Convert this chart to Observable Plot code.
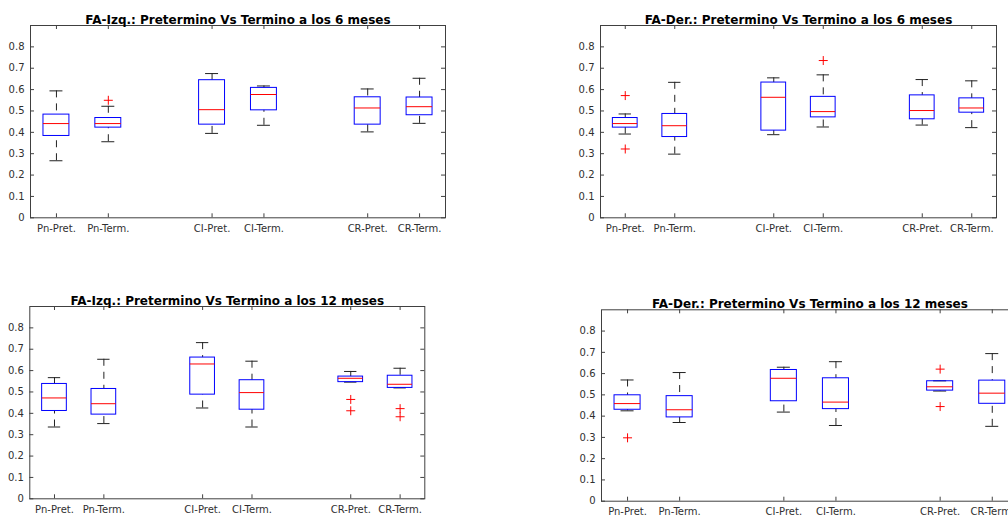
<!DOCTYPE html>
<html><head><meta charset="utf-8">
<script src="https://cdn.jsdelivr.net/npm/d3@7"></script>
<script src="https://cdn.jsdelivr.net/npm/@observablehq/plot@0.6"></script>
<style>
html,body{margin:0;padding:0;background:#fff;overflow:hidden;width:1008px;height:515px;}
#root{position:relative;width:1008px;height:515px;overflow:hidden;background:#fff;}
.panel{position:absolute;}
</style></head><body><div id="root"></div>
<script>
// ---- categories & ticks ----
const labels = ["Pn-Pret.","Pn-Term.","CI-Pret.","CI-Term.","CR-Pret.","CR-Term."];
const yTicks = [0, 0.1, 0.2, 0.3, 0.4, 0.5, 0.6, 0.7, 0.8];
const titles = [
  "FA-Izq.: Pretermino Vs Termino a los 6 meses",
  "FA-Der.: Pretermino Vs Termino a los 6 meses",
  "FA-Izq.: Pretermino Vs Termino a los 12 meses",
  "FA-Der.: Pretermino Vs Termino a los 12 meses"
];

// ---- FA-Izq. 6 meses ----
const izq6Low  = [0.267, 0.356, 0.395, 0.433, 0.402, 0.442];
const izq6Q1   = [0.383, 0.422, 0.436, 0.503, 0.436, 0.480];
const izq6Med  = [0.441, 0.441, 0.506, 0.577, 0.514, 0.520];
const izq6Q3   = [0.483, 0.467, 0.644, 0.608, 0.564, 0.563];
const izq6High = [0.594, 0.522, 0.675, 0.617, 0.603, 0.653];
const izq6OutLabel = ["Pn-Term."];
const izq6OutValue = [0.550];

// ---- FA-Der. 6 meses ----
const der6Low  = [0.392, 0.298, 0.389, 0.425, 0.434, 0.422];
const der6Q1   = [0.422, 0.378, 0.408, 0.470, 0.461, 0.492];
const der6Med  = [0.441, 0.431, 0.564, 0.497, 0.502, 0.514];
const der6Q3   = [0.467, 0.486, 0.633, 0.566, 0.573, 0.559];
const der6High = [0.486, 0.634, 0.655, 0.669, 0.647, 0.641];
const der6OutLabel = ["Pn-Pret.", "Pn-Pret.", "CI-Term."];
const der6OutValue = [0.572, 0.322, 0.736];

// ---- FA-Izq. 12 meses ----
const izq12Low  = [0.336, 0.352, 0.425, 0.336, 0.546, 0.519];
const izq12Q1   = [0.411, 0.394, 0.4875, 0.417, 0.546, 0.519];
const izq12Med  = [0.472, 0.445, 0.631, 0.497, 0.564, 0.536];
const izq12Q3   = [0.5375, 0.514, 0.661, 0.555, 0.572, 0.576];
const izq12High = [0.567, 0.653, 0.731, 0.644, 0.596, 0.611];
const izq12OutLabel = ["CR-Pret.", "CR-Pret.", "CR-Term.", "CR-Term."];
const izq12OutValue = [0.465, 0.412, 0.422, 0.384];

// ---- FA-Der. 12 meses ----
const der12Low  = [0.425, 0.370, 0.419, 0.356, 0.518, 0.352];
const der12Q1   = [0.430, 0.394, 0.470, 0.433, 0.520, 0.458];
const der12Med  = [0.459, 0.430, 0.578, 0.466, 0.538, 0.508];
const der12Q3   = [0.498, 0.494, 0.617, 0.578, 0.564, 0.567];
const der12High = [0.570, 0.605, 0.630, 0.656, 0.566, 0.694];
const der12OutLabel = ["Pn-Pret.", "CR-Pret.", "CR-Pret."];
const der12OutValue = [0.298, 0.621, 0.445];

// ---- layout (styles only) ----
const layouts = [
  {left: 0,   top: 0,   width: 460, height: 240, mL: 30,   mR: 15,   mT: 25,   mB: 22.7},
  {left: 540, top: 0,   width: 468, height: 240, mL: 60,   mR: 12,   mT: 25,   mB: 22.7},
  {left: 0,   top: 280, width: 460, height: 235, mL: 29.3, mR: 35.7, mT: 26,   mB: 16.7},
  {left: 540, top: 280, width: 490, height: 235, mL: 61,   mR: 12.2, mT: 29.3, mB: 14.3}
];

// slot index for each category: pairs separated by an empty slot
const slot = i => i + 1 + Math.floor(i / 2);
const slots = labels.map((_, i) => slot(i));

function panel(title, low, q1, med, q3, high, outLabel, outValue, L) {
  const rows = labels.map((lab, i) => ({pos: slot(i), low: low[i], q1: q1[i], med: med[i], q3: q3[i], high: high[i]}));
  const outs = outLabel.map((lab, i) => ({pos: slot(labels.indexOf(lab)), v: outValue[i]}));
  const plotW = L.width - L.mL - L.mR;
  const plotH = L.height - L.mT - L.mB;
  const axisColor = "#404040";
  const chart = Plot.plot({
    width: L.width, height: L.height,
    marginLeft: L.mL, marginRight: L.mR, marginTop: L.mT, marginBottom: L.mB,
    style: {fontFamily: "DejaVu Sans", fontSize: "10px", color: "#303030", background: "#fff", overflow: "visible"},
    x: {domain: [0.5, 8.5]},
    y: {domain: [0, 0.9]},
    marks: [
      // inward ticks on all four sides
      Plot.tickX(slots, {x: d => d, insetTop: plotH - 4, stroke: axisColor}),
      Plot.tickX(slots, {x: d => d, insetBottom: plotH - 4, stroke: axisColor}),
      Plot.tickY(yTicks, {y: d => d, insetRight: plotW - 4, stroke: axisColor}),
      Plot.tickY(yTicks, {y: d => d, insetLeft: plotW - 4, stroke: axisColor}),
      // whiskers (dashed), drawn from the far end toward the box
      Plot.ruleX(rows, {x: "pos", y1: "high", y2: "q3", stroke: "#222", strokeWidth: 1, strokeDasharray: "7,6"}),
      Plot.ruleX(rows, {x: "pos", y1: "low", y2: "q1", stroke: "#222", strokeWidth: 1, strokeDasharray: "7,6"}),
      // caps
      Plot.ruleY(rows, {y: "high", x1: d => d.pos - 0.125, x2: d => d.pos + 0.125, stroke: "#222"}),
      Plot.ruleY(rows, {y: "low", x1: d => d.pos - 0.125, x2: d => d.pos + 0.125, stroke: "#222"}),
      // boxes
      Plot.rect(rows, {x1: d => d.pos - 0.25, x2: d => d.pos + 0.25, y1: "q1", y2: "q3", fill: "none", stroke: "blue", strokeWidth: 1}),
      // medians
      Plot.ruleY(rows, {y: "med", x1: d => d.pos - 0.25, x2: d => d.pos + 0.25, stroke: "red", strokeWidth: 1}),
      // outliers
      Plot.dot(outs, {x: "pos", y: "v", symbol: "plus", r: 3, stroke: "red", strokeWidth: 1}),
      Plot.frame({stroke: axisColor}),
      Plot.axisX(slots, {tickSize: 0, tickPadding: 7, label: null, tickFormat: d => labels[slots.indexOf(d)], fontSize: 10}),
      Plot.axisY(yTicks, {tickSize: 0, tickPadding: 6, label: null, tickFormat: d => String(d), fontSize: 10}),
      Plot.text([title], {frameAnchor: "top", dy: -10, fontWeight: "bold", fontSize: 12, fill: "#000"})
    ]
  });
  const div = document.createElement("div");
  div.className = "panel";
  div.style.left = L.left + "px";
  div.style.top = L.top + "px";
  div.style.width = L.width + "px";
  div.style.height = L.height + "px";
  div.appendChild(chart);
  document.getElementById("root").appendChild(div);
}

panel(titles[0], izq6Low, izq6Q1, izq6Med, izq6Q3, izq6High, izq6OutLabel, izq6OutValue, layouts[0]);
panel(titles[1], der6Low, der6Q1, der6Med, der6Q3, der6High, der6OutLabel, der6OutValue, layouts[1]);
panel(titles[2], izq12Low, izq12Q1, izq12Med, izq12Q3, izq12High, izq12OutLabel, izq12OutValue, layouts[2]);
panel(titles[3], der12Low, der12Q1, der12Med, der12Q3, der12High, der12OutLabel, der12OutValue, layouts[3]);
</script>
</body></html>
